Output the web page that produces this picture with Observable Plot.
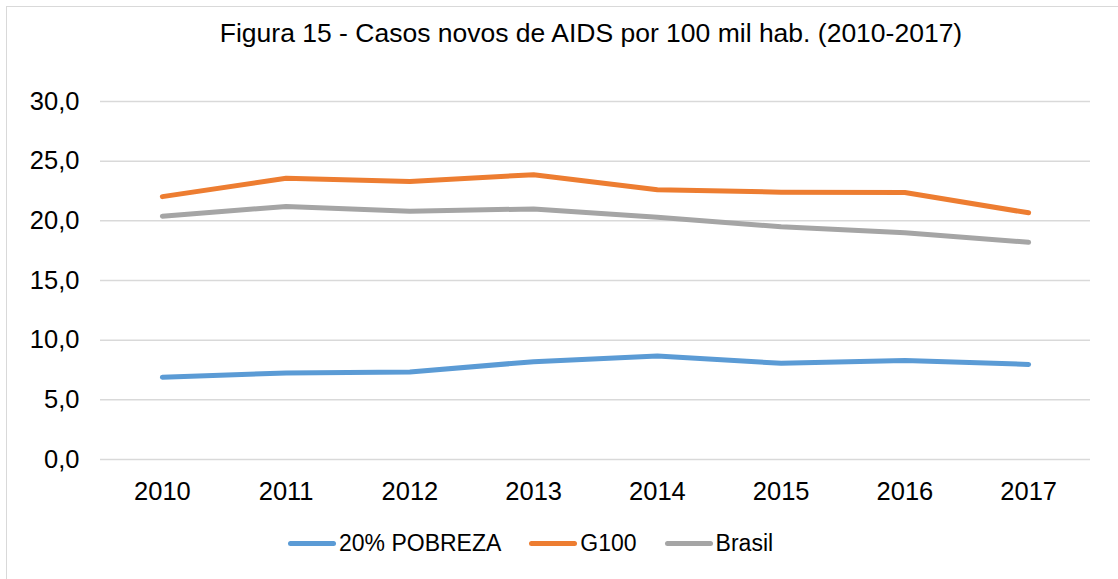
<!DOCTYPE html>
<html>
<head>
<meta charset="utf-8">
<script src="https://cdn.jsdelivr.net/npm/d3@7"></script>
<script src="https://cdn.jsdelivr.net/npm/@observablehq/plot@0.6"></script>
<style>
  html, body { margin: 0; padding: 0; background: #fff; }
  body { width: 1118px; height: 579px; overflow: hidden; font-family: "Liberation Sans", Arial, sans-serif; color: #000; }
  #wrap { position: relative; width: 1118px; height: 579px; }
  #frame { position: absolute; left: 6px; top: 6px; width: 1200px; height: 700px; border-left: 1.5px solid #d9d9d9; border-top: 1.5px solid #d9d9d9; box-sizing: border-box; pointer-events: none; }
  #title { height: 80px; box-sizing: border-box; padding-top: 18px; font-size: 26.5px; line-height: 30px; white-space: nowrap; text-align: center; padding-left: 64px; }
  #legend { height: 66px; display: flex; align-items: center; padding-left: 288px; font-size: 23px; }
  .item { display: flex; align-items: center; margin-right: 28px; }
  .sw { width: 48px; height: 5px; border-radius: 3px; margin-right: 3px; }
  svg { display: block; }
</style>
</head>
<body>
<div id="wrap">
  <div id="frame"></div>
  <div id="title">Figura 15 - Casos novos de AIDS por 100 mil hab. (2010-2017)</div>
  <div id="chart"></div>
  <div id="legend"></div>
</div>
<script>
const years = [2010, 2011, 2012, 2013, 2014, 2015, 2016, 2017];
const seriesNames = ["20% POBREZA", "G100", "Brasil"];
const seriesColors = ["#5B9BD5", "#ED7D31", "#A5A5A5"];
const pobreza = [6.9, 7.25, 7.33, 8.2, 8.67, 8.06, 8.3, 7.97];
const g100 = [22.03, 23.57, 23.29, 23.87, 22.6, 22.4, 22.37, 20.67];
const brasil = [20.39, 21.2, 20.8, 21.0, 20.3, 19.5, 19.0, 18.2];
const yTicks = [0, 5, 10, 15, 20, 25, 30];

const seriesValues = [pobreza, g100, brasil];
const data = [];
seriesNames.forEach((s, i) => {
  years.forEach((yr, j) => data.push({series: s, year: yr, value: seriesValues[i][j]}));
});

const fmt = d => d.toFixed(1).replace(".", ",");

const chart = Plot.plot({
  width: 1118,
  height: 430,
  marginLeft: 100,
  marginRight: 28,
  marginTop: 21,
  marginBottom: 51,
  style: {fontFamily: "'Liberation Sans', Arial, sans-serif", fontSize: "25.5px", color: "#000", background: "transparent"},
  x: {type: "linear", domain: [2009.5, 2017.5], ticks: years, tickFormat: d => String(d), tickSize: 0, tickPadding: 22, label: null},
  y: {domain: [0, 30], ticks: yTicks, tickFormat: fmt, tickSize: 0, tickPadding: 21, label: null},
  color: {domain: seriesNames, range: seriesColors},
  marks: [
    Plot.ruleY(yTicks, {stroke: "#d9d9d9", strokeWidth: 1.5}),
    Plot.axisX({ticks: years, tickFormat: d => String(d), tickSize: 0, tickPadding: 22, label: null}),
    Plot.axisY({ticks: yTicks, tickFormat: fmt, tickSize: 0, tickPadding: 21, label: null}),
    Plot.line(data, {x: "year", y: "value", z: "series", stroke: "series", strokeWidth: 5, strokeLinecap: "round", strokeLinejoin: "round"})
  ]
});
document.getElementById("chart").appendChild(chart);

const legend = document.getElementById("legend");
seriesNames.forEach((s, i) => {
  const it = document.createElement("div");
  it.className = "item";
  const sw = document.createElement("div");
  sw.className = "sw";
  sw.style.background = seriesColors[i];
  const t = document.createElement("span");
  t.textContent = s;
  it.appendChild(sw);
  it.appendChild(t);
  legend.appendChild(it);
});
</script>
</body>
</html>
